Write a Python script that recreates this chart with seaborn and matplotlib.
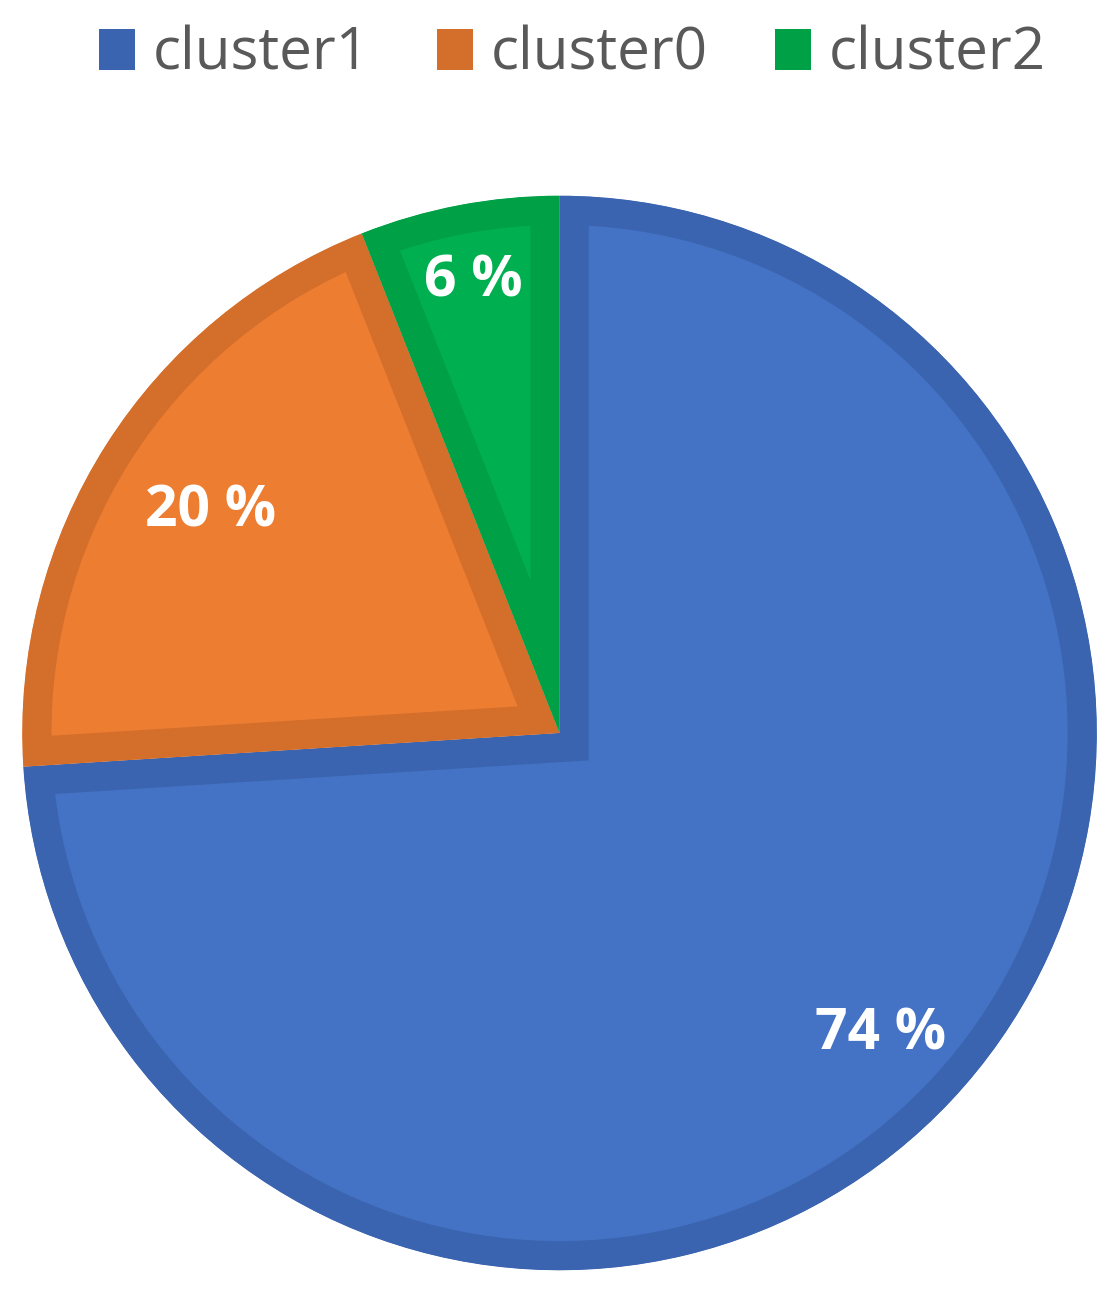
import matplotlib
matplotlib.use("Agg")
import matplotlib.pyplot as plt
import seaborn as sns
import numpy as np

# data
clusters = ["cluster1", "cluster0", "cluster2"]
shares = [74, 20, 6]

# style
fill_colors = ["#4472C4", "#ED7D31", "#00B050"]
edge_colors = ["#3A64AF", "#D46E2B", "#00A046"]
label_radius = [0.82, 0.77, 0.855]

sns.set_theme(style="white")
plt.rcParams["font.family"] = ["Open Sans", "DejaVu Sans"]

fig = plt.figure(figsize=(11.2, 12.98), dpi=100)
ax = fig.add_axes([0.0103, 0.0131, 0.9786, 0.8444])

wedges, texts, autotexts = ax.pie(
    shares,
    colors=fill_colors,
    startangle=90,
    counterclock=False,
    autopct=lambda p: f"{p:.0f} %",
    pctdistance=0.82,
    textprops=dict(color="white", fontsize=41, fontweight="bold"),
)

# inner border like the office-style chart: thick stroke clipped to the wedge
for w, ec in zip(wedges, edge_colors):
    w.set_edgecolor(ec)
    w.set_linewidth(42)
    w.set_clip_on(True)
    w.set_clip_path(w)

# move labels along each wedge's mid-angle
for w, t, r in zip(wedges, autotexts, label_radius):
    ang = np.deg2rad((w.theta1 + w.theta2) / 2)
    t.set_position((r * np.cos(ang), r * np.sin(ang)))

ax.set_xlim(-1.02, 1.02)
ax.set_ylim(-1.02, 1.02)
ax.set_aspect("equal")
ax.axis("off")

handles = [plt.Rectangle((0, 0), 1, 1, facecolor=c, edgecolor="none") for c in edge_colors]
fig.legend(
    handles, clusters,
    loc="center", bbox_to_anchor=(0.511, 0.958), ncol=3, frameon=False,
    fontsize=42, labelcolor="#595959",
    handlelength=0.62, handleheight=0.72, handletextpad=0.3, columnspacing=1.15,
)

fig.savefig("out.png", dpi=100)
